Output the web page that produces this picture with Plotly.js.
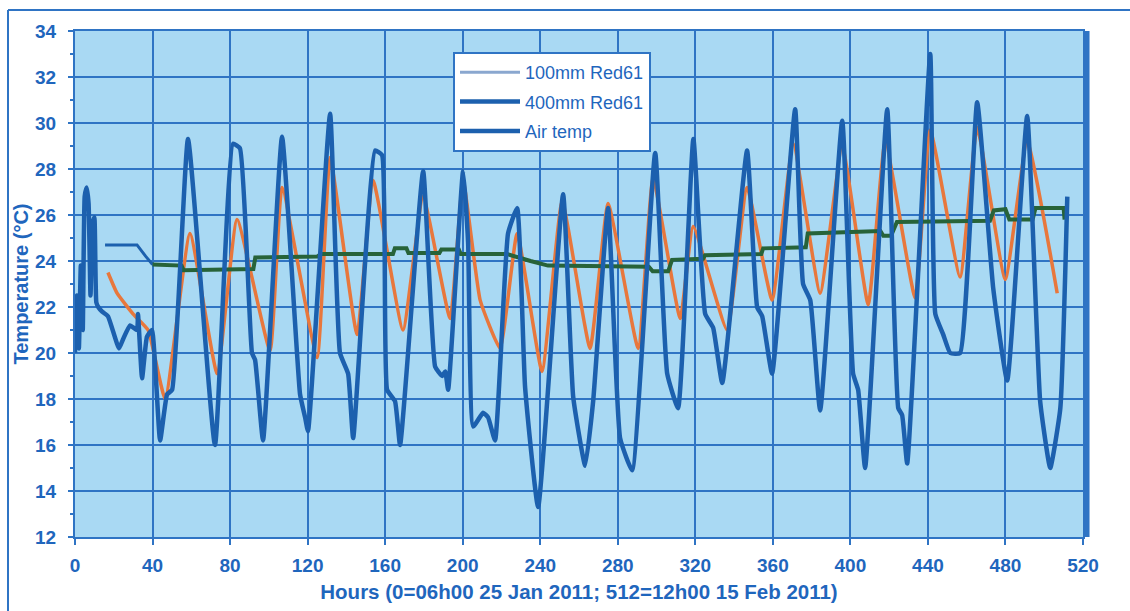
<!DOCTYPE html>
<html>
<head>
<meta charset="utf-8">
<script src="https://cdn.plot.ly/plotly-3.0.1.min.js"></script>
<style>html,body{margin:0;padding:0;background:#fff;}#chart{width:1130px;height:611px;}</style>
</head>
<body>
<div id="chart"></div>
<script>
// ---- Data ----
const seriesNames = ["100mm Red61", "400mm Red61", "Air temp"];

const hoursAir = [0,1,2,3,4,5,6,7,8,9,10,11,12,14,17,22.7,24.8,28.4,32,32.5,34.6,37.1,39.7,43.9,47.5,50.1,58.3,72.2,81.5,85.1,91.3,92.9,97.0,106.8,116.1,118.7,120.2,131.6,136.7,140.9,143.5,154.8,158.4,161.0,165.1,167.7,179.6,185.8,189.4,191.0,192.5,200.2,202.8,205.4,210.5,213.1,216.7,223.4,228.1,232.2,238.9,251.8,257.0,263.2,267.3,275.0,281.2,287.4,299.3,305.5,311.1,319.0,325.1,329.2,333.9,346.7,351.9,354.5,359.6,371.5,375.6,379.3,384.4,395.8,401.4,404.0,407.6,419.0,424.7,426.7,429.3,441.2,443.8,447.9,451.5,456.6,465.4,473.7,480.9,491.2,497.9,503.1,508.3,511.9];
const airTemp = [20.0,22.5,20.2,23.8,21.0,26.8,27.2,26.5,22.5,25.6,25.9,22.2,22.0,21.8,21.6,20.2,20.6,21.2,21.0,21.7,18.9,20.7,21.0,16.2,18.2,18.4,29.3,16.0,29.1,28.9,20.0,19.7,16.2,29.4,18.2,17.2,16.6,30.4,20.0,19.1,16.3,28.8,28.6,18.4,17.9,16.0,27.9,19.4,19.0,19.2,18.4,27.9,24.8,16.8,17.4,17.2,16.2,25.2,26.3,18.5,13.3,26.9,18.1,15.1,17.9,26.3,16.3,14.9,28.7,19.1,17.6,29.3,21.7,21.1,18.7,28.8,22.0,21.6,19.1,30.6,23.0,22.3,17.5,30.1,19.1,18.4,15.0,30.6,17.6,17.3,15.2,33.0,21.7,20.8,20.0,20.0,30.9,22.8,18.8,30.3,17.9,15.0,17.6,26.8];

const hours100 = [17,21.7,29.9,37.7,46.5,59.3,73.3,83.6,100.6,106.8,124.9,131.6,145.5,153.8,169.2,179.6,193.5,200.2,209.0,219.3,228.1,240.9,251.3,265.7,275.0,290.5,298.2,312.2,318.9,336.4,346.7,359.6,370.5,384.4,395.8,409.2,418.0,433.4,441.2,456.6,465.4,479.9,491.2,506.7];
const temp100 = [23.5,22.6,21.7,21.0,18.0,25.2,19.1,25.8,20.1,27.2,19.8,28.5,20.8,27.5,21.0,26.8,21.5,27.5,22.3,20.2,25.2,19.2,26.6,20.2,26.5,20.2,27.6,21.5,25.5,21.0,27.2,22.3,29.1,22.6,29.0,22.1,29.2,22.4,29.7,23.3,29.8,23.2,29.2,22.6];

const hours400 = [15.5,32,36.5,40,55,56,92,93,125,127,164,165,171,172,188,189,198,199,223,235,244,296,298,306,308,324,325,354,355,377,378,415.5,417,421,424,472,474,480,482,494,495.5,510,510.5];
const temp400 = [24.7,24.7,24.2,23.85,23.8,23.6,23.65,24.15,24.2,24.3,24.3,24.55,24.55,24.35,24.35,24.5,24.5,24.3,24.3,24.0,23.8,23.75,23.55,23.55,24.05,24.1,24.25,24.3,24.55,24.6,25.2,25.3,25.1,25.1,25.7,25.75,26.2,26.25,25.8,25.8,26.3,26.3,25.8];

const xTickVals = [0,40,80,120,160,200,240,280,320,360,400,440,480,520];
const yTickVals = [12,14,16,18,20,22,24,26,28,30,32,34];

const xTitle = "Hours (0=06h00 25 Jan 2011; 512=12h00 15 Feb 2011)";
const yTitle = "Temperature (°C)";

// ---- Styles ----
const BLUE_TXT = "#1f66bd";
const GRID = "#2f74c4";
const AIR = "#1c60ae";
const ORANGE = "#e8773c";
const GREEN = "#276339";
const FONT = "Liberation Sans, Arial, sans-serif";
const bold = s => "<b>" + s + "</b>";

// split 400mm series: early part (before h=40) is drawn in blue in the reference
const splitIdx = hours400.indexOf(40);

const traces = [
  {x: hours100, y: temp100, type: "scatter", mode: "lines", name: seriesNames[0],
   line: {color: ORANGE, width: 3.5, shape: "spline", smoothing: 0.4}, showlegend: false},
  {x: hours400.slice(0, splitIdx + 1), y: temp400.slice(0, splitIdx + 1), type: "scatter", mode: "lines",
   name: seriesNames[1], line: {color: AIR, width: 3}, showlegend: false},
  {x: hours400.slice(splitIdx), y: temp400.slice(splitIdx), type: "scatter", mode: "lines",
   name: seriesNames[1], line: {color: GREEN, width: 4}, showlegend: false},
  {x: hoursAir, y: airTemp, type: "scatter", mode: "lines", name: seriesNames[2],
   line: {color: AIR, width: 4.5, shape: "spline", smoothing: 0.4}, showlegend: false},
  // legend entries (styled as in the reference legend)
  {x: [null], y: [null], type: "scatter", mode: "lines", name: seriesNames[0],
   line: {color: "#8aa7cf", width: 3}, legendgroup: "a"},
  {x: [null], y: [null], type: "scatter", mode: "lines", name: seriesNames[1],
   line: {color: AIR, width: 4.5}, legendgroup: "b"},
  {x: [null], y: [null], type: "scatter", mode: "lines", name: seriesNames[2],
   line: {color: AIR, width: 4.5}, legendgroup: "c"}
];

const L = 75, R = 47, T = 31, B = 74, W = 1130, H = 611;
const pw = W - L - R, ph = H - T - B;
const px2paper = p => (p - L) / pw;
const py2paper = p => (H - B - p) / ph;

const layout = {
  width: W, height: H,
  margin: {l: L, r: R, t: T, b: B},
  paper_bgcolor: "#ffffff",
  plot_bgcolor: "#a9d9f3",
  font: {family: FONT, color: BLUE_TXT},
  showlegend: true,
  legend: {
    x: px2paper(453), y: py2paper(52), xanchor: "left", yanchor: "top",
    bgcolor: "#ffffff", bordercolor: GRID, borderwidth: 2,
    font: {family: FONT, size: 18, color: BLUE_TXT},
    traceorder: "grouped", tracegroupgap: 3, itemwidth: 60
  },
  xaxis: {
    range: [0, 520], tickmode: "array", tickvals: xTickVals, ticktext: xTickVals.map(v => bold(v)),
    showgrid: true, gridcolor: GRID, gridwidth: 2,
    zeroline: false, showline: true, linecolor: GRID, linewidth: 2, mirror: true,
    ticks: "outside", ticklen: 6, tickwidth: 2, tickcolor: GRID,
    ticklabelstandoff: 4,
    tickfont: {family: FONT, size: 19, color: BLUE_TXT},
    title: {text: bold(xTitle), font: {family: FONT, size: 20.5, color: BLUE_TXT}, standoff: 10}
  },
  yaxis: {
    range: [12, 34], tickmode: "array", tickvals: yTickVals, ticktext: yTickVals.map(v => bold(v)),
    showgrid: true, gridcolor: GRID, gridwidth: 2,
    zeroline: false, showline: true, linecolor: GRID, linewidth: 2, mirror: true,
    ticks: "outside", ticklen: 5, tickwidth: 2, tickcolor: GRID,
    minor: {dtick: 1, ticks: "outside", ticklen: 3, tickcolor: GRID, showgrid: false},
    ticklabelstandoff: 8,
    tickfont: {family: FONT, size: 19, color: BLUE_TXT},
    title: {text: bold(yTitle), font: {family: FONT, size: 20, color: BLUE_TXT}, standoff: 1}
  },
  shapes: [
    {type: "line", xref: "paper", yref: "paper", x0: px2paper(8), x1: px2paper(1130), y0: py2paper(10), y1: py2paper(10),
     line: {color: GRID, width: 2}},
    {type: "line", xref: "paper", yref: "paper", x0: px2paper(8), x1: px2paper(8), y0: py2paper(10), y1: py2paper(611),
     line: {color: GRID, width: 2}},
    {type: "line", xref: "paper", yref: "paper", x0: 1.004, x1: 1.004, y0: 0, y1: 1,
     line: {color: GRID, width: 5}}
  ]
};

Plotly.newPlot("chart", traces, layout, {staticPlot: true, displayModeBar: false});
</script>
</body>
</html>
